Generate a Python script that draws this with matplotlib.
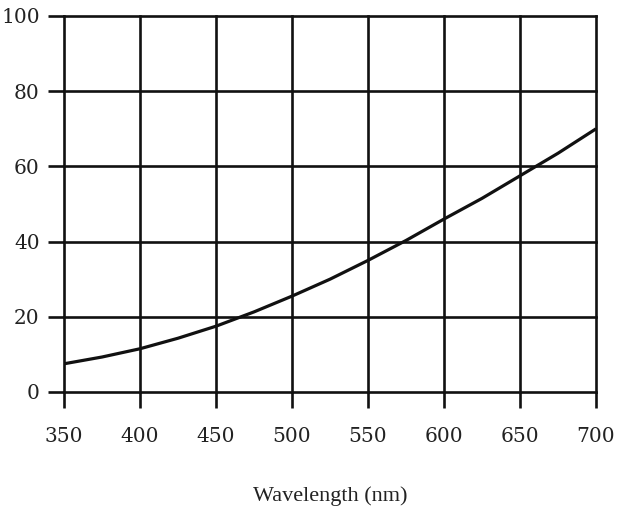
import matplotlib
matplotlib.use('Agg')
import matplotlib.pyplot as plt

plt.rcParams['font.family'] = ['Liberation Serif', 'DejaVu Serif']

# Curve
wavelengths = [350, 375, 400, 425, 450, 475, 500, 525, 550, 575, 600, 625, 650, 675, 700]
values = [7.5, 9.3, 11.5, 14.3, 17.5, 21.3, 25.5, 30.0, 35.0, 40.3, 46.0, 51.5, 57.5, 63.5, 70.0]

x_ticks = [350, 400, 450, 500, 550, 600, 650, 700]
y_ticks = [0, 20, 40, 60, 80, 100]

fig = plt.figure(figsize=(6.19, 5.11), dpi=100)
ax = fig.add_axes([0.1034, 0.2329, 0.8595, 0.7358])

ax.set_xlim(350, 700)
ax.set_ylim(0, 100)

# Grid drawn as thick black lines (not clipped, so the outer ones keep full width)
for xv in x_ticks:
    ax.axvline(xv, color='#111111', lw=1.9, zorder=1, clip_on=False)
for yv in y_ticks:
    ax.axhline(yv, color='#111111', lw=1.9, zorder=1, clip_on=False)

ax.plot(wavelengths, values, color='#111111', lw=2.3, zorder=2, solid_capstyle='butt')

for s in ax.spines.values():
    s.set_visible(False)

ax.set_xticks(x_ticks)
ax.set_yticks(y_ticks)
ax.tick_params(axis='both', direction='out', length=11.5, width=1.9, color='#111111',
               labelsize=14.5)
ax.tick_params(axis='x', pad=14)
ax.tick_params(axis='y', pad=6)
for lab in ax.get_xticklabels() + ax.get_yticklabels():
    lab.set_family('DejaVu Serif')
    lab.set_color('#222222')

ax.set_xlabel('Wavelength (nm)', fontsize=16, labelpad=29, color='#222222')

fig.savefig('out.png', dpi=100)
